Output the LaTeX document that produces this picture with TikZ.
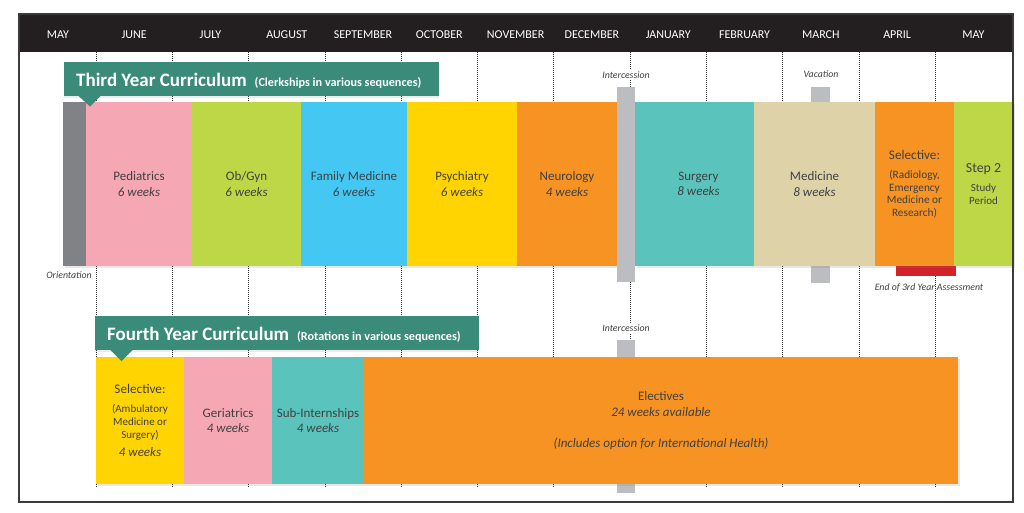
\documentclass[tikz,border=0pt]{standalone}
\usepackage{fontspec}
\setmainfont{Carlito}
\usetikzlibrary{shadows}
\definecolor{hdr}{HTML}{231F20}
\definecolor{framec}{HTML}{3A3A3A}
\definecolor{bannerc}{HTML}{3A8B7A}
\definecolor{orientc}{HTML}{808285}
\definecolor{pinkc}{HTML}{F5A8B3}
\definecolor{limec}{HTML}{BED747}
\definecolor{bluec}{HTML}{44C8F3}
\definecolor{yellowc}{HTML}{FFD400}
\definecolor{orangec}{HTML}{F69322}
\definecolor{tealc}{HTML}{5AC4BC}
\definecolor{tanc}{HTML}{DED3A8}
\definecolor{grayc}{HTML}{BCBDC0}
\definecolor{redc}{HTML}{D2232A}
\definecolor{txtc}{HTML}{414042}
\definecolor{gridc}{HTML}{333333}
\begin{document}
\begin{tikzpicture}[x=1pt,y=-1pt,
  blk/.style={draw=none, rectangle, inner sep=0pt, outer sep=0pt, anchor=north west,
    text=txtc, align=center, font=\fontsize{13}{15.5}\selectfont,
    drop shadow={opacity=0.18, shadow xshift=1.5pt, shadow yshift=-1.5pt}},
  bar/.style={draw=none, rectangle, inner sep=0pt, outer sep=0pt, anchor=north west, fill=grayc},
  banner/.style={draw=none, rectangle, inner sep=0pt, anchor=north west, fill=bannerc,
    drop shadow={opacity=0.15, shadow xshift=0pt, shadow yshift=-1.5pt}},
  btitle/.style={anchor=base west, text=white, inner sep=0pt},
  month/.style={text=white, font=\fontsize{12}{14}\selectfont, inner sep=0pt},
  note/.style={text=txtc, font=\fontsize{9.8}{11}\itshape, inner sep=1.5pt},
  gridline/.style={draw=gridc, line width=0.7pt, dash pattern=on 1pt off 1pt}
]
% canvas
\fill[white] (0,0) rectangle (1024,512);
\useasboundingbox (0,0) rectangle (1024,512);

% month grid
\foreach \i in {0,...,11}
  \draw[gridline] ({96+76.3*\i},51.5) -- ({96+76.3*\i},486);

% bars behind boxes
\node[bar, fill=redc, minimum width=60pt, minimum height=11pt] (assess) at (896,265) {};
\node[bar, minimum width=19pt, minimum height=196pt] (vac) at (811,87) {};
\node[bar, minimum width=18pt, minimum height=153pt] (inter2) at (617,340) {};

% third year row
\node[blk, fill=orientc, minimum width=23pt, minimum height=164pt] (orient) at (63,102) {};
\node[blk, fill=pinkc, minimum width=106pt, minimum height=164pt] (ped) at (86,102) {Pediatrics\\\textit{6 weeks}};
\node[blk, fill=limec, minimum width=109pt, minimum height=164pt] (obg) at (192,102) {Ob/Gyn\\\textit{6 weeks}};
\node[blk, fill=bluec, minimum width=106pt, minimum height=164pt] (fam) at (301,102) {Family Medicine\\\textit{6 weeks}};
\node[blk, fill=yellowc, minimum width=110pt, minimum height=164pt] (psy) at (407,102) {Psychiatry\\\textit{6 weeks}};
\node[blk, fill=orangec, minimum width=100pt, minimum height=164pt] (neu) at (517,102) {Neurology\\\textit{4 weeks}};
\node[blk, fill=tealc, minimum width=119pt, minimum height=164pt] (sur) at (635,102) {\hspace*{8pt}Surgery\\\hspace*{8pt}\textit{8 weeks}};
\node[blk, fill=tanc, minimum width=121pt, minimum height=164pt] (med) at (754,102) {Medicine\\\textit{8 weeks}};
\node[blk, fill=orangec, minimum width=79pt, minimum height=164pt, font=\fontsize{11.3}{12.5}\selectfont] (sel3) at (875,102)
  {{\fontsize{13.2}{15}\selectfont Selective:}\\[7pt](Radiology,\\Emergency\\Medicine or\\Research)};
\node[blk, fill=limec, minimum width=59pt, minimum height=164pt, font=\fontsize{11}{12.5}\selectfont] (step) at (954,102)
  {{\fontsize{13.8}{15}\selectfont Step 2}\\[7pt]Study\\Period};
\node[bar, minimum width=18pt, minimum height=195pt] (inter1) at (617,87) {};

% fourth year row
\node[blk, fill=yellowc, minimum width=88pt, minimum height=127pt, font=\fontsize{11}{12.8}\selectfont] (sel4) at (96,357)
  {{\fontsize{13.2}{15}\selectfont Selective:}\\[6pt](Ambulatory\\Medicine or\\Surgery)\\[5pt]{\fontsize{13}{15}\selectfont\itshape 4 weeks}};
\node[blk, fill=pinkc, minimum width=88pt, minimum height=127pt] (ger) at (184,357) {Geriatrics\\\textit{4 weeks}};
\node[blk, fill=tealc, minimum width=92pt, minimum height=127pt] (subi) at (272,357) {Sub-Internships\\\textit{4 weeks}};
\node[blk, fill=orangec, minimum width=594pt, minimum height=127pt] (elec) at (364,357)
  {Electives\\\textit{24 weeks available}\\[15.5pt]\textit{(Includes option for International Health)}};

% banners
\node[banner, minimum width=375pt, minimum height=34pt] (ban3) at (64,62) {};
\fill[bannerc] (78,95.5) -- (101,95.5) -- (90,106.5) -- cycle;
\node[btitle] (ban3t) at (76,86) {\fontsize{19}{21}\bfseries Third Year Curriculum\hspace{8pt}{\fontsize{12.2}{13}\selectfont (Clerkships in various sequences)}};
\node[banner, minimum width=384pt, minimum height=34pt] (ban4) at (95,316) {};
\fill[bannerc] (110,349.5) -- (133,349.5) -- (121.5,361) -- cycle;
\node[btitle] (ban4t) at (107,340) {\fontsize{19}{21}\bfseries Fourth Year Curriculum\hspace{8pt}{\fontsize{12.2}{13}\selectfont (Rotations in various sequences)}};

% notes
\node[note, fill=white] (intl1) at (626,75) {Intercession};
\node[note] (vacl) at (821,74) {Vacation};
\node[note, fill=white] (intl2) at (626,328) {Intercession};
\node[note] (orl) at (69,275) {Orientation};
\node[note] (assl) at (929,288) {End of 3rd Year Assessment};

% header and frame
\fill[hdr] (19,14) rectangle (1013,51.5);
\foreach \m [count=\i from 0] in {MAY,JUNE,JULY,AUGUST,SEPTEMBER,OCTOBER,NOVEMBER,DECEMBER,JANUARY,FEBRUARY,MARCH,APRIL,MAY}
  \node[month] (m\i) at ({57.85+76.3*\i},34.5) {\m};
\draw[framec, line width=1.3pt] (19,14) rectangle (1013,502);
\end{tikzpicture}
\end{document}
